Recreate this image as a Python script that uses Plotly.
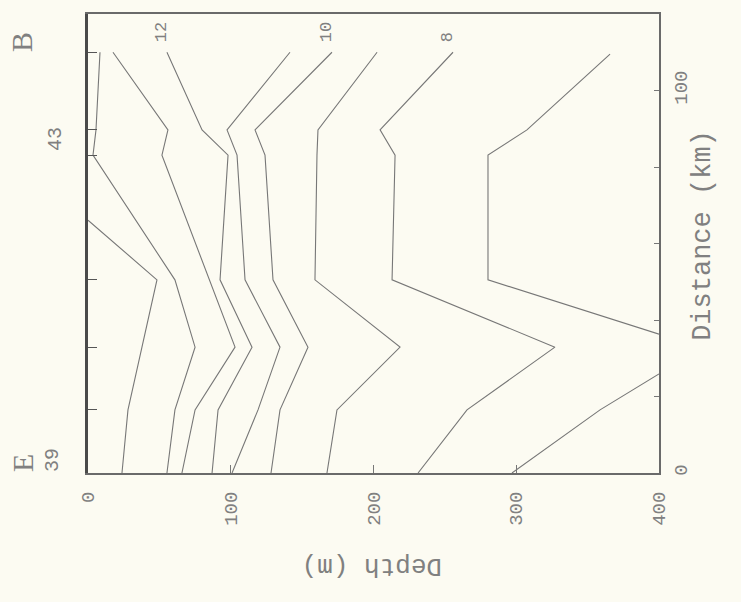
import plotly.graph_objects as go

# ---- data ----
# contour isolines: distance along section (km) and depth (m)
c15_km = [66.1, 50.5, 32.9, 16.5, 0]
c15_depth = [0, 48.3, 37.8, 28.0, 23.8]

c14_km = [110, 89.7, 83.1, 50.5, 32.9, 16.5, 0]
c14_depth = [8.4, 5.6, 3.5, 60.9, 75.0, 60.9, 55.3]

c13_km = [110, 89.7, 83.1, 50.5, 32.9, 16.5, 0]
c13_depth = [17.5, 56.0, 51.8, 84.8, 103.0, 75.0, 65.8]

c12_km = [110, 89.7, 83.1, 50.5, 32.9, 16.5, 0]
c12_depth = [55.3, 79.9, 98.1, 92.5, 114.9, 91.1, 86.9]

c11_km = [110, 89.7, 83.1, 50.5, 32.9, 16.5, 0]
c11_depth = [141.5, 97.4, 104.4, 110.0, 134.5, 119.1, 100.9]

c10_km = [110, 89.7, 83.1, 50.5, 32.9, 16.5, 0]
c10_depth = [170.9, 117.0, 124.0, 129.6, 154.1, 134.5, 128.2]

c9_km = [110, 89.7, 83.1, 50.5, 32.9, 16.5, 0]
c9_depth = [202.5, 161.1, 160.4, 159.0, 218.6, 174.4, 167.4]

c8_km = [110, 89.7, 83.1, 50.5, 32.9, 16.5, 0]
c8_depth = [255.7, 204.6, 215.1, 213.0, 327.1, 265.5, 231.2]

c7_km = [109.5, 89.7, 83.1, 50.5, 36.3]
c7_depth = [365.7, 307.5, 280.2, 280.2, 400]

c6_km = [25.9, 16.5, 0]
c6_depth = [400, 358.7, 297.0]

contours = [
    ("15", c15_km, c15_depth, False),
    ("14", c14_km, c14_depth, False),
    ("13", c13_km, c13_depth, False),
    ("12", c12_km, c12_depth, True),
    ("11", c11_km, c11_depth, False),
    ("10", c10_km, c10_depth, True),
    ("9", c9_km, c9_depth, False),
    ("8", c8_km, c8_depth, True),
    ("7", c7_km, c7_depth, False),
    ("6", c6_km, c6_depth, False),
]

station_km = [16.5, 32.9, 50.5, 83.1, 89.7, 110.0]
distance_ticks = [0, 20, 40, 60, 80, 100, 120]
distance_ticktext = ["0", "", "", "", "", "100", ""]
depth_ticks = [0, 100, 200, 300, 400]
depth_ticktext = ["0", "100", "200", "300", "400"]

# ---- styling ----
BG = "#fcfbf2"
INK = "#777777"
TXT = "#808080"
MONO = "Liberation Mono, Courier New, monospace"
SERIF = "Liberation Serif, DejaVu Serif, serif"

fig = go.Figure()
for name, km, dep, lab in contours:
    fig.add_trace(go.Scatter(x=dep, y=km, mode="lines",
                             line=dict(color=INK, width=1.1),
                             name=name, showlegend=False, hoverinfo="skip"))

# station tick axis (left edge)
fig.add_trace(go.Scatter(x=[None], y=[None], yaxis="y2", showlegend=False,
                         hoverinfo="skip"))

annotations = []
for name, km, dep, lab in contours:
    if lab:
        annotations.append(dict(x=dep[0], y=km[0], xref="x", yref="y",
                                text=name, textangle=-90, showarrow=False,
                                xanchor="center", xshift=-6,
                                yanchor="bottom", yshift=8,
                                font=dict(family=MONO, size=17, color=TXT)))

L, R, T, B = 88, 659, 14, 473
W_PLOT = R - L

def px(xpix):
    return (xpix - L) / W_PLOT

C = dict(xanchor="center", yanchor="middle", showarrow=False)
annotations += [
    dict(x=px(22), y=2.6, xref="paper", yref="y", text="E", textangle=-90,
         font=dict(family=SERIF, size=30, color=TXT), **C),
    dict(x=px(52), y=3.4, xref="paper", yref="y", text="39", textangle=-90,
         font=dict(family=MONO, size=20, color=TXT), **C),
    dict(x=px(22), y=112.7, xref="paper", yref="y", text="B", textangle=-90,
         font=dict(family=SERIF, size=30, color=TXT), **C),
    dict(x=px(55), y=87.3, xref="paper", yref="y", text="43", textangle=-90,
         font=dict(family=MONO, size=20, color=TXT), **C),
    dict(x=px(372), y=(B - 566) / (B - T), xref="paper", yref="paper",
         text="Depth (m)", textangle=180,
         font=dict(family=MONO, size=26, color=TXT), **C),
    dict(x=px(703), y=62.0, xref="paper", yref="y",
         text="Distance (km)", textangle=-90,
         font=dict(family=MONO, size=27, color=TXT), **C),
]

fig.update_layout(
    width=741, height=602, autosize=False,
    margin=dict(l=L, r=741 - R, t=T, b=602 - B),
    paper_bgcolor=BG, plot_bgcolor=BG,
    showlegend=False,
    xaxis=dict(range=[0, 400], tickvals=depth_ticks, ticktext=depth_ticktext,
               ticks="inside", ticklen=8, tickcolor="#777",
               tickangle=-90, ticklabelstandoff=9,
               tickfont=dict(family=MONO, size=19, color=TXT),
               showgrid=False, zeroline=False,
               showline=True, mirror=True, linecolor="#6a6a6a", linewidth=2),
    yaxis=dict(range=[0, 120], side="right", tickvals=distance_ticks,
               ticktext=distance_ticktext, ticks="inside", ticklen=5,
               tickcolor="#777", tickangle=-90, ticklabelstandoff=3,
               tickfont=dict(family=MONO, size=19, color=TXT),
               showgrid=False, zeroline=False,
               showline=True, mirror=False, linecolor="#6a6a6a", linewidth=2),
    yaxis2=dict(range=[0, 120], overlaying="y", side="left",
                tickvals=station_km, ticks="inside", ticklen=9,
                tickcolor="#555", showticklabels=False,
                showgrid=False, zeroline=False,
                showline=True, linecolor="#4a4a4a", linewidth=3),
    annotations=annotations,
)

fig.write_html(
    "out.html",
    config={"displayModeBar": False},
    post_script="document.body.style.margin='0';"
                "document.body.style.background='" + BG + "';",
)
